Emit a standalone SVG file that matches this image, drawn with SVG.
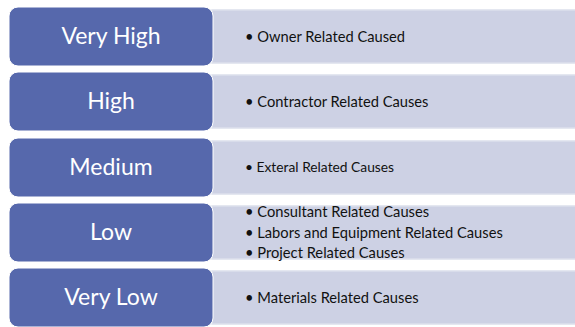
<svg xmlns="http://www.w3.org/2000/svg" width="575" height="327" viewBox="0 0 575 327">
<style>
.lvl{fill:#5668AC;stroke:#FFFFFF;stroke-width:1}
.box{fill:#CDD1E4;stroke:#DCDFEC;stroke-width:1.5}
.lt{font-family:"Lato","Liberation Sans",sans-serif;font-size:23px;fill:#FFFFFF;text-anchor:middle}
.it{font-family:"Lato","Liberation Sans",sans-serif;font-size:14.7px;fill:#111111}
</style>
<rect width="575" height="327" fill="#FFFFFF"/>
<g id="row1">
<rect class="box" x="212" y="10" width="366" height="53"/>
<rect class="lvl" x="9" y="7" width="204" height="59" rx="9"/>
<text class="lt" x="111" y="44">Very High</text>
<text class="it" x="245" y="42">• Owner Related Caused</text>
</g>
<g id="row2">
<rect class="box" x="212" y="75" width="366" height="53"/>
<rect class="lvl" x="9" y="72" width="204" height="59" rx="9"/>
<text class="lt" x="111" y="109">High</text>
<text class="it" x="245" y="107">• Contractor Related Causes</text>
</g>
<g id="row3">
<rect class="box" x="212" y="141" width="366" height="53"/>
<rect class="lvl" x="9" y="138" width="204" height="59" rx="9"/>
<text class="lt" x="111" y="175">Medium</text>
<text class="it" x="245" y="172" style="font-size:13.8px">• Exteral Related Causes</text>
</g>
<g id="row4">
<rect class="box" x="212" y="206" width="366" height="53"/>
<rect class="lvl" x="9" y="203" width="204" height="59" rx="9"/>
<text class="lt" x="111" y="240">Low</text>
<text class="it" x="245" y="217">• Consultant Related Causes</text>
<text class="it" x="245" y="238">• Labors and Equipment Related Causes</text>
<text class="it" x="245" y="258">• Project Related Causes</text>
</g>
<g id="row5">
<rect class="box" x="212" y="271" width="366" height="53"/>
<rect class="lvl" x="9" y="268" width="204" height="59" rx="9"/>
<text class="lt" x="111" y="305">Very Low</text>
<text class="it" x="245" y="303">• Materials Related Causes</text>
</g>
<g id="connectors"></g>
</svg>
